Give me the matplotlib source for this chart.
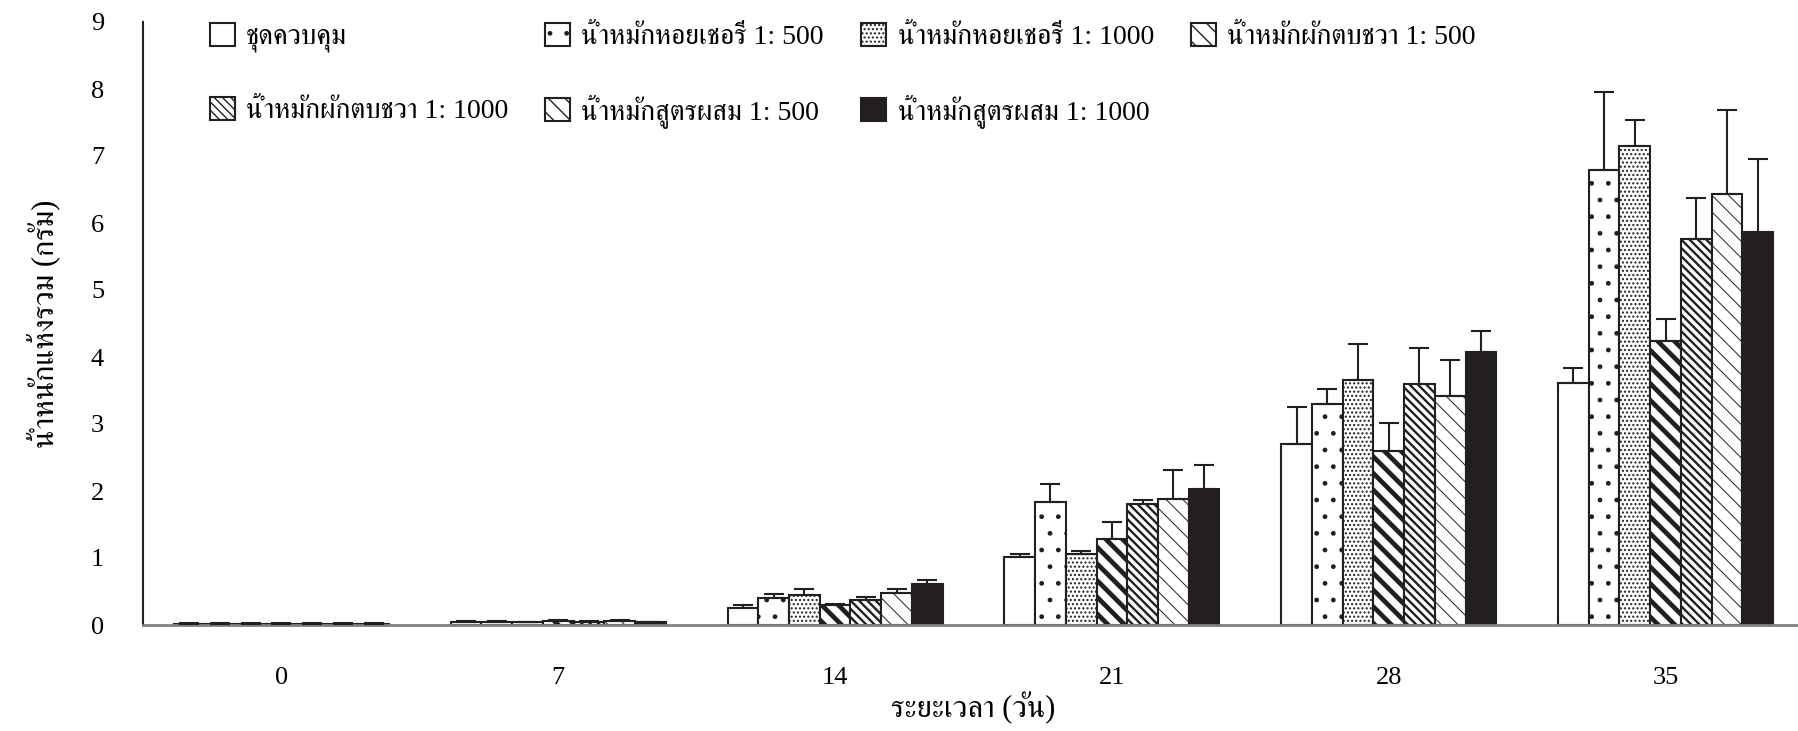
import numpy as np
import matplotlib
matplotlib.use("Agg")
from matplotlib import pyplot as plt
from matplotlib import font_manager
from matplotlib.ft2font import FT2Font

days = ["0", "7", "14", "21", "28", "35"]

labels = ["ชุดควบคุม",
          "น้ำหมักหอยเชอรี่ 1: 500",
          "น้ำหมักหอยเชอรี่ 1: 1000",
          "น้ำหมักผักตบชวา 1: 500",
          "น้ำหมักผักตบชวา 1: 1000",
          "น้ำหมักสูตรผสม 1: 500",
          "น้ำหมักสูตรผสม 1: 1000"]

control = [0.02, 0.05, 0.25, 1.01, 2.70, 3.61]
shell_500 = [0.02, 0.05, 0.41, 1.83, 3.30, 6.79]
shell_1000 = [0.02, 0.04, 0.445, 1.06, 3.66, 7.15]
veg_500 = [0.02, 0.06, 0.30, 1.28, 2.60, 4.24]
veg_1000 = [0.02, 0.05, 0.37, 1.81, 3.59, 5.76]
mix_500 = [0.02, 0.06, 0.485, 1.88, 3.42, 6.43]
mix_1000 = [0.02, 0.04, 0.605, 2.03, 4.07, 5.86]

control_sd = [0.005, 0.01, 0.05, 0.05, 0.55, 0.23]
shell_500_sd = [0.005, 0.01, 0.05, 0.27, 0.22, 1.16]
shell_1000_sd = [0.005, 0.01, 0.09, 0.05, 0.53, 0.39]
veg_500_sd = [0.005, 0.02, 0.01, 0.26, 0.41, 0.32]
veg_1000_sd = [0.005, 0.01, 0.05, 0.05, 0.55, 0.62]
mix_500_sd = [0.005, 0.02, 0.05, 0.44, 0.53, 1.25]
mix_1000_sd = [0.005, 0.01, 0.07, 0.36, 0.32, 1.10]

MEANS = [control, shell_500, shell_1000, veg_500, veg_1000, mix_500, mix_1000]
SDS = [control_sd, shell_500_sd, shell_1000_sd, veg_500_sd, veg_1000_sd, mix_500_sd, mix_1000_sd]

BLACK = "#231f20"
FILLS = ["white", "white", "white", "white", "white", "white", BLACK]
HATCHES = [None, ".", "....", "\\\\", "\\\\\\\\", "\\\\", None]
HATCH_LW = [1.0, 1.0, 1.0, 3.4, 1.7, 0.7, 1.0]


# find an installed font that has Thai glyphs
def thai_font():
    found = []
    for f in font_manager.fontManager.ttflist:
        try:
            if 0x0E19 in FT2Font(f.fname).get_charmap():
                found.append(f.name)
        except Exception:
            pass
    found.sort(key=lambda n: ("Serif" not in n, "Looped" not in n, n))
    return found[0] if found else "DejaVu Sans"


THAI = thai_font()
FAMILY = ["Liberation Serif", THAI, "DejaVu Sans"]
plt.rcParams["font.family"] = FAMILY
plt.rcParams["hatch.linewidth"] = 1.0

fig = plt.figure(figsize=(17.98, 7.31), dpi=100)
ax = fig.add_axes([143 / 1798, 1 - 625 / 731, 1661 / 1798, (625 - 22) / 731])

x = np.arange(len(days))
width = 0.111
n = len(MEANS)
handles = []
for i in range(n):
    pos = x + (i - (n - 1) / 2) * width
    bars = ax.bar(pos, MEANS[i], width, color=FILLS[i], edgecolor=BLACK,
                  linewidth=1.5, hatch=HATCHES[i], label=labels[i], zorder=2)
    if hasattr(bars[0], "set_hatch_linewidth"):
        for b in bars:
            b.set_hatch_linewidth(HATCH_LW[i])
    ax.errorbar(pos, MEANS[i], yerr=[np.zeros(len(days)), SDS[i]], fmt="none",
                ecolor=BLACK, elinewidth=1.5, capsize=7, capthick=1.5, zorder=3)
    handles.append(bars)

ax.set_xlim(-0.5, len(days) - 0.5)
ax.set_ylim(0, 9)
ax.set_yticks(range(0, 10))
ax.set_xticks(x)
ax.set_xticklabels(days)
ax.tick_params(axis="both", length=0, labelsize=19)
ax.tick_params(axis="x", pad=30)
ax.tick_params(axis="y", pad=28)

for s in ["top", "right"]:
    ax.spines[s].set_visible(False)
ax.spines["left"].set_color(BLACK)
ax.spines["left"].set_linewidth(1.5)
ax.spines["bottom"].set_color("#808080")
ax.spines["bottom"].set_linewidth(2)

ax.set_ylabel("น้ำหนักแห้งรวม (กรัม)", fontsize=22, labelpad=22)
ax.set_xlabel("ระยะเวลา (วัน)", fontsize=22, labelpad=2)

# legend fills by column, so reorder to get the row layout
order = [0, 4, 1, 5, 2, 6, 3]
leg = ax.legend([handles[k] for k in order], [labels[k] for k in order],
                ncol=4, loc="upper left", bbox_to_anchor=(0.025, 1.04),
                frameon=False, fontsize=20, handlelength=0.9, handleheight=0.9,
                handletextpad=0.4, columnspacing=1.35, labelspacing=1.6)

fig.savefig("out.png", dpi=100)
